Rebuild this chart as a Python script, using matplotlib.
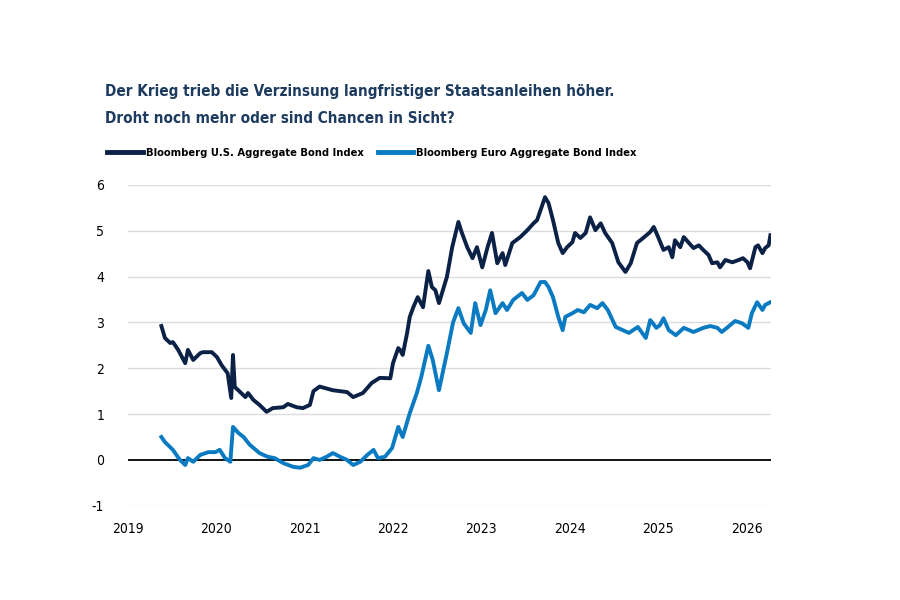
import matplotlib
matplotlib.use('Agg')
import matplotlib.pyplot as plt
from matplotlib.lines import Line2D

# Schrift: schmale Sans, sonst DejaVu Sans Condensed
plt.rcParams['font.family'] = ['Liberation Sans Narrow', 'DejaVu Sans']
plt.rcParams['font.stretch'] = 'condensed'

# Bloomberg U.S. Aggregate Bond Index (Rendite in %), Zeit als Dezimaljahr
us_jahr = [2019.38, 2019.42, 2019.48, 2019.51, 2019.57, 2019.65, 2019.68, 2019.74, 2019.82, 2019.85,
           2019.95, 2020.01, 2020.06, 2020.13, 2020.17, 2020.19, 2020.21, 2020.25, 2020.33, 2020.36,
           2020.42, 2020.49, 2020.57, 2020.64, 2020.76, 2020.81, 2020.91, 2020.98, 2021.06, 2021.10,
           2021.17, 2021.32, 2021.48, 2021.55, 2021.66, 2021.76, 2021.85, 2021.97, 2022.00, 2022.06,
           2022.08, 2022.11, 2022.16, 2022.19, 2022.23, 2022.28, 2022.34, 2022.40, 2022.44, 2022.48,
           2022.52, 2022.61, 2022.67, 2022.74, 2022.78, 2022.84, 2022.90, 2022.95, 2023.01, 2023.07,
           2023.12, 2023.18, 2023.24, 2023.27, 2023.35, 2023.44, 2023.52, 2023.59, 2023.63, 2023.67,
           2023.72, 2023.76, 2023.81, 2023.87, 2023.92, 2023.97, 2024.03, 2024.06, 2024.12, 2024.18,
           2024.23, 2024.29, 2024.35, 2024.40, 2024.48, 2024.55, 2024.63, 2024.69, 2024.76, 2024.83,
           2024.91, 2024.95, 2025.00, 2025.06, 2025.12, 2025.16, 2025.19, 2025.25, 2025.29, 2025.34,
           2025.40, 2025.46, 2025.51, 2025.57, 2025.61, 2025.67, 2025.70, 2025.76, 2025.84, 2025.91,
           2025.96, 2026.01, 2026.04, 2026.10, 2026.13, 2026.18, 2026.21, 2026.25, 2026.27]
us_wert = [2.92, 2.66, 2.55, 2.57, 2.40, 2.11, 2.40, 2.18, 2.33, 2.35,
           2.35, 2.24, 2.07, 1.89, 1.35, 2.29, 1.59, 1.52, 1.37, 1.46,
           1.31, 1.20, 1.05, 1.13, 1.15, 1.22, 1.15, 1.13, 1.20, 1.50,
           1.60, 1.52, 1.48, 1.37, 1.46, 1.68, 1.79, 1.78, 2.11, 2.44,
           2.40, 2.29, 2.77, 3.12, 3.33, 3.55, 3.33, 4.12, 3.77, 3.70,
           3.42, 3.99, 4.64, 5.19, 4.95, 4.64, 4.40, 4.64, 4.20, 4.64,
           4.95, 4.29, 4.51, 4.25, 4.73, 4.86, 5.01, 5.16, 5.23, 5.45,
           5.73, 5.60, 5.23, 4.73, 4.51, 4.64, 4.75, 4.95, 4.84, 4.95,
           5.29, 5.01, 5.16, 4.95, 4.73, 4.31, 4.10, 4.29, 4.73, 4.84,
           4.97, 5.08, 4.86, 4.58, 4.64, 4.42, 4.79, 4.64, 4.86, 4.75,
           4.62, 4.68, 4.58, 4.47, 4.29, 4.31, 4.20, 4.36, 4.31, 4.36,
           4.40, 4.31, 4.18, 4.64, 4.68, 4.51, 4.62, 4.68, 4.90]

# Bloomberg Euro Aggregate Bond Index
eu_jahr = [2019.38, 2019.42, 2019.51, 2019.59, 2019.65, 2019.68, 2019.74, 2019.82, 2019.91, 2019.99,
           2020.04, 2020.10, 2020.16, 2020.19, 2020.25, 2020.31, 2020.38, 2020.49, 2020.58, 2020.66,
           2020.76, 2020.87, 2020.95, 2021.04, 2021.10, 2021.17, 2021.25, 2021.32, 2021.40, 2021.48,
           2021.55, 2021.63, 2021.71, 2021.78, 2021.83, 2021.91, 2021.99, 2022.06, 2022.11, 2022.19,
           2022.27, 2022.32, 2022.40, 2022.45, 2022.52, 2022.61, 2022.68, 2022.74, 2022.80, 2022.88,
           2022.93, 2022.99, 2023.05, 2023.10, 2023.16, 2023.24, 2023.29, 2023.36, 2023.46, 2023.52,
           2023.59, 2023.67, 2023.72, 2023.76, 2023.81, 2023.87, 2023.92, 2023.95, 2024.03, 2024.09,
           2024.16, 2024.23, 2024.31, 2024.37, 2024.43, 2024.52, 2024.60, 2024.67, 2024.77, 2024.86,
           2024.91, 2024.94, 2024.98, 2025.02, 2025.06, 2025.12, 2025.20, 2025.29, 2025.40, 2025.51,
           2025.59, 2025.67, 2025.72, 2025.79, 2025.87, 2025.95, 2026.02, 2026.06, 2026.12, 2026.18,
           2026.21, 2026.27]
eu_wert = [0.50, 0.39, 0.22, 0.00, -0.11, 0.04, -0.04, 0.11, 0.17, 0.17,
           0.22, 0.04, -0.04, 0.72, 0.59, 0.50, 0.33, 0.15, 0.07, 0.04,
           -0.07, -0.15, -0.17, -0.11, 0.04, 0.00, 0.07, 0.15, 0.07, 0.00,
           -0.11, -0.04, 0.11, 0.22, 0.04, 0.07, 0.26, 0.72, 0.50, 1.02,
           1.46, 1.81, 2.49, 2.18, 1.52, 2.33, 3.00, 3.31, 2.98, 2.77,
           3.42, 2.94, 3.27, 3.70, 3.20, 3.42, 3.27, 3.49, 3.64, 3.49,
           3.59, 3.88, 3.88, 3.77, 3.55, 3.12, 2.83, 3.12, 3.20, 3.27,
           3.22, 3.38, 3.31, 3.42, 3.27, 2.90, 2.83, 2.77, 2.90, 2.66,
           3.05, 2.98, 2.88, 2.94, 3.09, 2.83, 2.72, 2.88, 2.79, 2.88,
           2.92, 2.88, 2.79, 2.90, 3.03, 2.98, 2.88, 3.20, 3.44, 3.27,
           3.38, 3.44]

jahre = [2019, 2020, 2021, 2022, 2023, 2024, 2025, 2026]
y_ticks = [-1, 0, 1, 2, 3, 4, 5, 6]

farbe_us = '#0c2146'
farbe_eu = '#0a7bc2'
farbe_titel = '#1d3b5e'

fig = plt.figure(figsize=(9, 6), dpi=100)
ax = fig.add_axes([0.142, 0.157, 0.715, 0.535])

ax.plot(us_jahr, us_wert, color=farbe_us, linewidth=2.8, solid_joinstyle='round', zorder=3)
ax.plot(eu_jahr, eu_wert, color=farbe_eu, linewidth=2.8, solid_joinstyle='round', zorder=3)

ax.set_xlim(2019, 2026.28)
ax.set_ylim(-1, 6)
ax.set_xticks(jahre)
ax.set_xticklabels([str(j) for j in jahre])
ax.set_yticks(y_ticks)
ax.set_yticklabels([str(v) for v in y_ticks])

# Gitter und Nulllinie
for v in y_ticks:
    if v == 0:
        ax.axhline(0, color='black', linewidth=1.3, zorder=2)
    else:
        ax.axhline(v, color='#dcdcdc', linewidth=1.0, zorder=1)

for s in ax.spines.values():
    s.set_visible(False)
ax.tick_params(axis='both', length=0, labelsize=10, colors='black')
ax.tick_params(axis='y', pad=17)
ax.tick_params(axis='x', pad=12)

# Titel
fig.text(0.117, 0.848, 'Der Krieg trieb die Verzinsung langfristiger Staatsanleihen höher.',
         fontsize=11, fontweight='bold', color=farbe_titel, va='center', ha='left')
fig.text(0.117, 0.802, 'Droht noch mehr oder sind Chancen in Sicht?',
         fontsize=11, fontweight='bold', color=farbe_titel, va='center', ha='left')

# Legende
griffe = [Line2D([0], [0], color=farbe_us, linewidth=3.5),
          Line2D([0], [0], color=farbe_eu, linewidth=3.5)]
fig.legend(griffe, ['Bloomberg U.S. Aggregate Bond Index', 'Bloomberg Euro Aggregate Bond Index'],
           loc='center left', bbox_to_anchor=(0.108, 0.745), ncol=2, frameon=False,
           handlelength=3.2, handletextpad=0.25, columnspacing=1.3,
           prop={'weight': 'bold', 'size': 8, 'stretch': 'condensed'})

fig.savefig('out.png', dpi=100, facecolor='white')
